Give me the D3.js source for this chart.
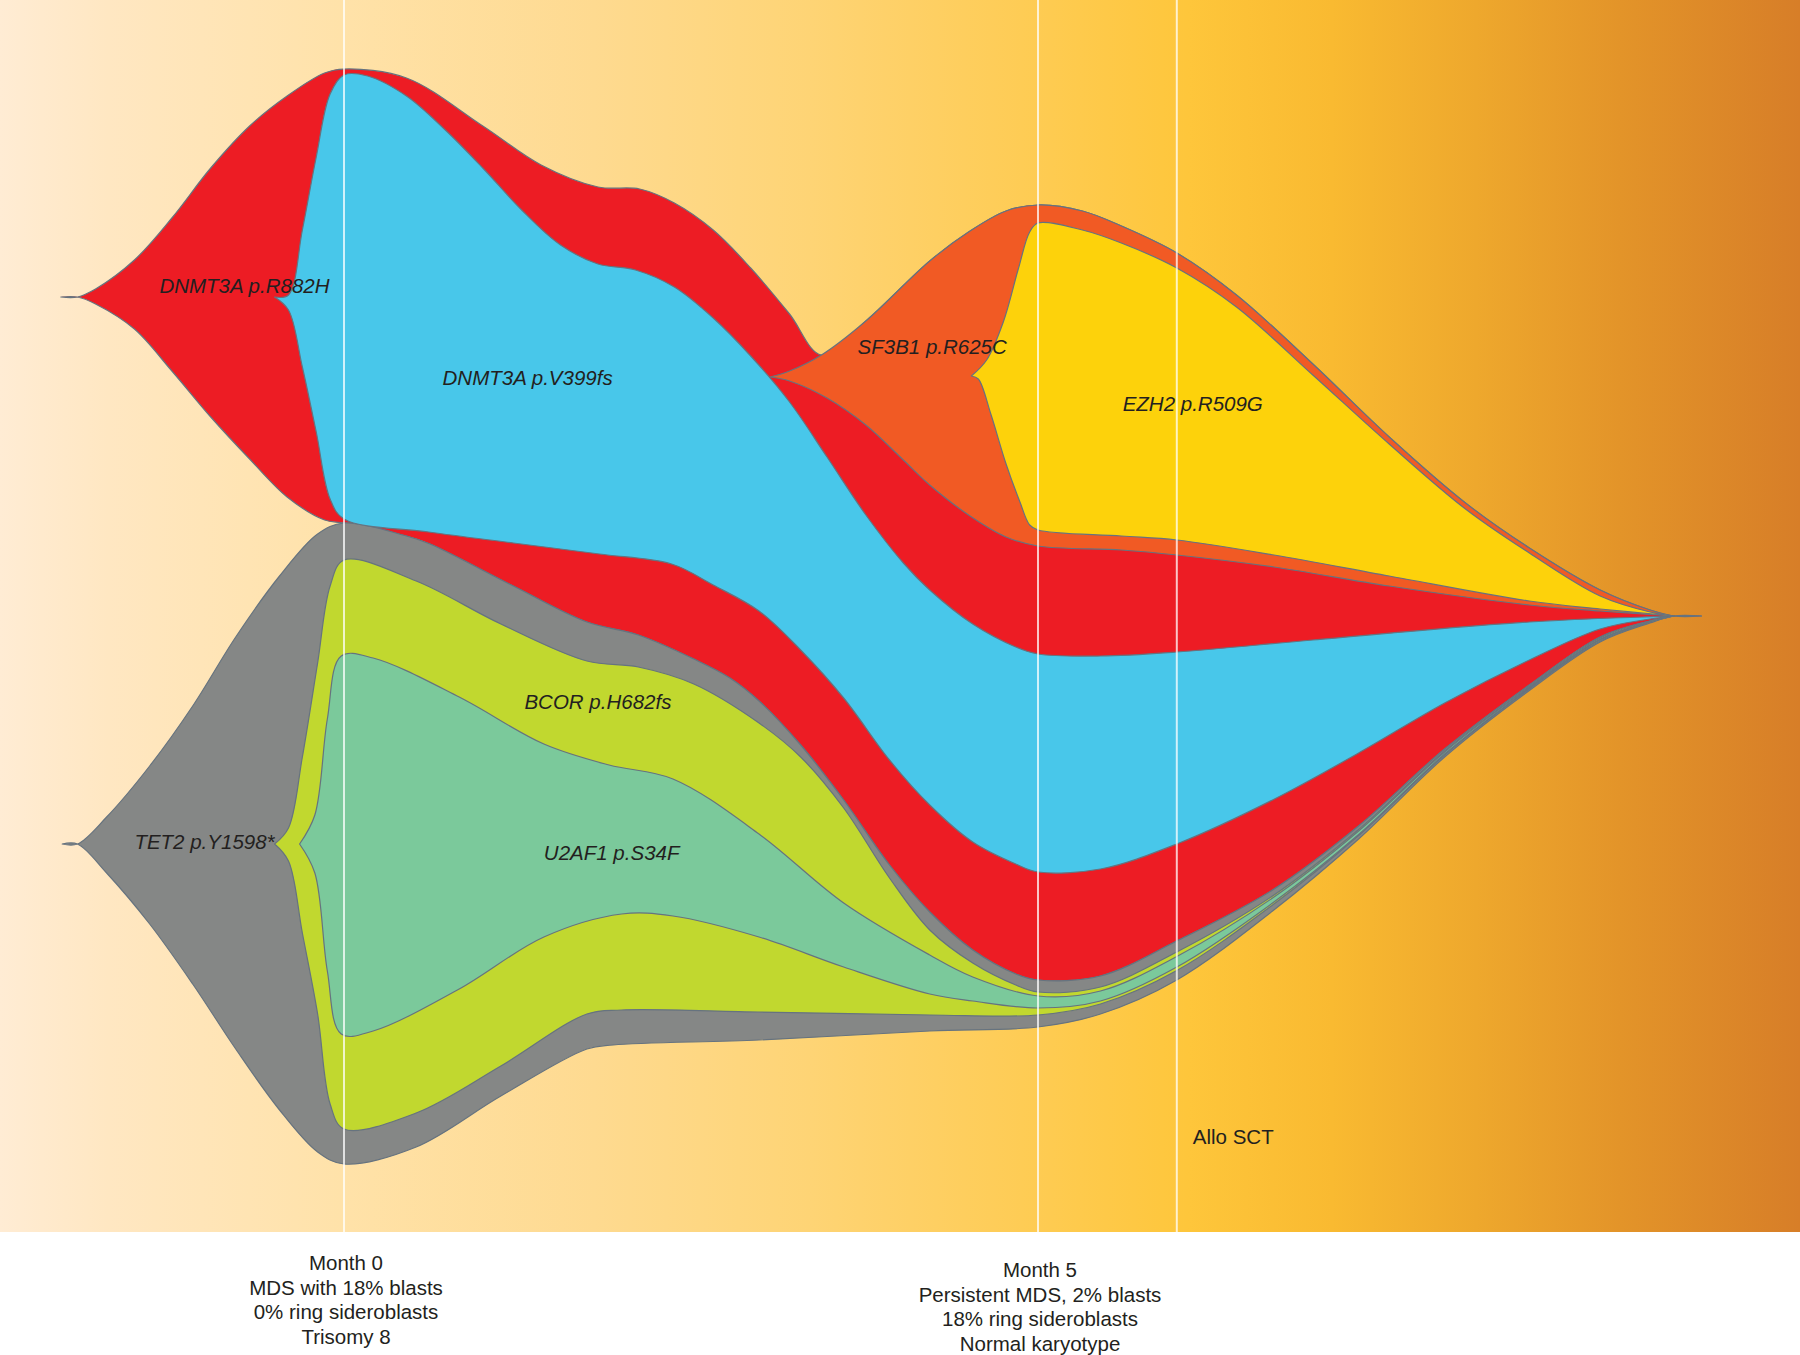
<!DOCTYPE html>
<html>
<head>
<meta charset="utf-8">
<script src="https://cdn.jsdelivr.net/npm/d3@7"></script>
<style>
  html, body { margin: 0; padding: 0; background: #ffffff; }
  svg { display: block; }
</style>
</head>
<body>
<svg id="chart" width="1800" height="1355"></svg>
<script>
// ---------------- DATA ----------------
// x: months since diagnosis; v: vertical position (0 = convergence line, + up)

// DNMT3A p.R882H (founding clone, outer envelope)
const r882hTop = [[-2.04,31.9],[-1.92,31.9],[-1.79,32.7],[-1.51,35.6],[-1.24,39.8],[-0.96,44.8],[-0.68,49.0],[-0.41,52.0],[-0.14,54.3],[0,54.7],[0.45,53.8],[1.00,49.0],[1.42,45.1],[1.83,42.9],[2.13,42.7],[2.38,41.3],[2.66,38.6],[2.93,34.8],[3.21,30.2],[3.44,26.1],[3.76,29.5],[4.22,35.5],[4.50,38.4],[4.77,40.5],[5.00,41.1],[5.32,40.5],[5.60,39.0],[6.00,36.3],[6.43,32.1],[6.98,25.2],[7.53,17.9],[8.08,11.3],[8.54,6.8],[9.05,2.6],[9.41,0.6],[9.58,0],[9.78,0]];
const r882hBottom = [[-2.04,31.9],[-1.92,31.9],[-1.79,31.2],[-1.51,28.7],[-1.24,24.5],[-0.96,19.9],[-0.68,15.7],[-0.41,11.9],[-0.14,9.6],[0,9.3],[0.45,8.0],[0.62,7.2],[1.22,3.0],[1.75,-0.6],[2.12,-1.9],[2.52,-4.3],[2.78,-6.2],[2.99,-8.5],[3.29,-12.9],[3.60,-18.4],[3.93,-24.9],[4.22,-29.6],[4.53,-33.4],[4.84,-35.8],[5.00,-36.4],[5.45,-36.0],[6.00,-32.5],[6.69,-27.4],[7.31,-21.0],[7.93,-13.3],[8.54,-6.9],[9.05,-2.1],[9.41,-0.5],[9.58,0],[9.78,0]];

// TET2 p.Y1598* (founding clone, lower fish)
const tet2Top = [[-2.03,-22.8],[-1.92,-22.8],[-1.71,-20.1],[-1.40,-15.0],[-1.09,-9.0],[-0.78,-2.1],[-0.47,3.9],[-0.19,8.2],[0,9.3],[0.45,8.0],[0.62,7.2],[1.22,3.0],[1.75,-0.6],[2.12,-1.9],[2.52,-4.3],[2.78,-6.2],[2.99,-8.5],[3.29,-12.9],[3.60,-18.4],[3.93,-24.9],[4.22,-29.6],[4.53,-33.4],[4.84,-35.8],[5.00,-36.4],[5.45,-36.0],[6.00,-32.5],[6.69,-27.4],[7.31,-21.0],[7.93,-13.3],[8.54,-6.9],[9.05,-2.1],[9.41,-0.5],[9.58,0],[9.78,0]];
const tet2Bottom = [[-2.03,-22.8],[-1.92,-22.8],[-1.71,-25.7],[-1.40,-30.8],[-1.09,-36.8],[-0.78,-43.3],[-0.47,-49.3],[-0.19,-53.6],[0,-54.8],[0.52,-53.1],[1.13,-48.0],[1.75,-43.3],[1.94,-42.9],[2.99,-42.4],[4.22,-41.5],[5.00,-41.1],[5.45,-39.8],[6.00,-36.4],[6.69,-29.5],[7.31,-22.3],[7.93,-14.1],[8.54,-7.45],[9.05,-2.6],[9.41,-0.7],[9.58,0],[9.78,0]];

// DNMT3A p.V399fs (child of R882H)
const v399Top = [[-0.50,31.9],[-0.40,32.1],[-0.30,38.6],[-0.20,45.9],[-0.10,52.2],[0,54.1],[0.17,54.0],[0.45,52.0],[0.73,48.6],[1.00,44.8],[1.28,40.6],[1.56,37.1],[1.83,35.2],[2.10,34.6],[2.38,32.9],[2.66,29.8],[2.93,26.0],[3.21,21.4],[3.48,15.9],[3.76,10.1],[4.03,5.3],[4.22,2.6],[4.53,-0.8],[4.84,-3.1],[5.00,-3.8],[5.45,-4.0],[6.00,-3.6],[6.98,-2.4],[8.54,-0.6],[9.58,0]];
const v399Bottom = [[-0.50,31.9],[-0.40,30.6],[-0.30,24.9],[-0.20,18.4],[-0.10,11.7],[0,9.7],[0.61,8.4],[1.22,7.3],[1.84,6.2],[2.36,5.2],[2.66,3.1],[2.99,0.5],[3.29,-3.4],[3.60,-8.2],[3.93,-14.4],[4.22,-18.9],[4.53,-22.6],[4.84,-24.8],[5.00,-25.6],[5.45,-25.3],[6.00,-22.8],[6.69,-18.4],[7.31,-13.7],[7.93,-8.7],[8.54,-4.4],[9.05,-1.3],[9.41,-0.3],[9.58,0]];

// SF3B1 p.R625C (child of R882H)
const sf3b1Top = [[3.07,23.9],[3.21,24.5],[3.44,26.1],[3.76,29.5],[4.22,35.5],[4.50,38.4],[4.77,40.5],[5.00,41.1],[5.32,40.5],[5.60,39.0],[6.00,36.3],[6.43,32.1],[6.98,25.2],[7.53,17.9],[8.08,11.3],[8.54,6.8],[9.05,2.6],[9.41,0.6],[9.58,0]];
const sf3b1Bottom = [[3.07,23.9],[3.21,23.5],[3.48,21.8],[3.76,19.1],[4.03,15.6],[4.22,13.1],[4.50,10.1],[4.77,7.9],[5.00,7.0],[5.60,6.6],[6.00,6.1],[6.70,4.9],[7.53,3.0],[8.54,1.1],[9.05,0.5],[9.58,0]];

// EZH2 p.R509G (child of SF3B1)
const ezh2Top = [[4.52,24.0],[4.63,25.6],[4.75,29.4],[4.86,34.8],[4.94,38.4],[5.00,39.3],[5.32,38.6],[5.60,37.3],[6.00,34.8],[6.43,30.9],[6.98,24.1],[7.53,17.2],[8.08,10.7],[8.54,6.3],[9.05,2.0],[9.41,0.4],[9.58,0]];
const ezh2Bottom = [[4.52,24.0],[4.57,23.7],[4.66,20.2],[4.77,15.2],[4.87,11.4],[4.94,9.1],[5.00,8.6],[5.60,8.0],[6.00,7.6],[6.70,6.1],[7.53,4.0],[8.54,1.5],[9.05,0.7],[9.58,0]];

// BCOR p.H682fs (child of TET2)
const bcorTop = [[-0.50,-22.8],[-0.40,-21.2],[-0.30,-14.1],[-0.19,-4.7],[-0.10,3.0],[0,5.6],[0.52,3.5],[1.13,-0.8],[1.75,-4.5],[2.12,-5.1],[2.52,-6.8],[2.99,-10.7],[3.29,-14.1],[3.60,-19.2],[3.93,-26.2],[4.22,-31.4],[4.53,-34.7],[4.84,-36.9],[5.00,-37.6],[5.45,-37.1],[6.00,-33.6],[6.69,-28.0],[7.31,-21.35],[7.93,-13.5],[8.54,-7.05],[9.05,-2.2],[9.41,-0.53],[9.58,0]];
const bcorBottom = [[-0.50,-22.8],[-0.40,-24.5],[-0.30,-31.7],[-0.19,-39.8],[-0.10,-48.8],[0,-51.3],[0.52,-49.7],[1.13,-45.0],[1.75,-39.8],[2.00,-39.4],[2.99,-39.6],[4.22,-39.9],[5.00,-39.9],[5.45,-38.8],[6.00,-35.45],[6.69,-28.9],[7.31,-21.95],[7.93,-13.9],[8.54,-7.3],[9.05,-2.5],[9.41,-0.63],[9.58,0]];

// U2AF1 p.S34F (child of BCOR)
const u2af1Top = [[-0.32,-22.8],[-0.21,-19.9],[-0.12,-10.3],[-0.02,-4.0],[0.21,-4.2],[0.83,-8.1],[1.44,-12.8],[1.91,-14.9],[2.37,-16.3],[2.99,-21.8],[3.60,-28.7],[4.22,-33.9],[4.53,-36.1],[5.00,-38.0],[5.45,-37.5],[6.00,-34.05],[6.69,-28.2],[7.31,-21.5],[7.93,-13.6],[8.54,-7.12],[9.05,-2.3],[9.41,-0.56],[9.58,0]];
const u2af1Bottom = [[-0.32,-22.8],[-0.21,-25.7],[-0.12,-35.5],[-0.02,-41.8],[0.21,-41.5],[0.83,-37.3],[1.44,-32.1],[2.00,-29.8],[2.37,-30.0],[2.99,-32.1],[3.60,-35.1],[4.22,-37.8],[4.53,-38.5],[5.00,-39.2],[5.45,-38.5],[6.00,-35.1],[6.69,-28.7],[7.31,-21.85],[7.93,-13.8],[8.54,-7.25],[9.05,-2.4],[9.41,-0.6],[9.58,0]];

// clones in drawing order (parents before children)
const cloneNames  = ["DNMT3A p.R882H", "TET2 p.Y1598*", "DNMT3A p.V399fs", "SF3B1 p.R625C", "EZH2 p.R509G", "BCOR p.H682fs", "U2AF1 p.S34F"];
const cloneColors = ["#ED1C24", "#858786", "#48C7EA", "#F15A24", "#FDD20B", "#C1D82F", "#7BC99B"];
const cloneTops    = [r882hTop, tet2Top, v399Top, sf3b1Top, ezh2Top, bcorTop, u2af1Top];
const cloneBottoms = [r882hBottom, tet2Bottom, v399Bottom, sf3b1Bottom, ezh2Bottom, bcorBottom, u2af1Bottom];

// clone label anchors (month, v) - text starts here
const labelMonths = [-1.33, -1.51, 0.71, 3.70, 5.61, 1.30, 1.44];
const labelV      = [32.3, -23.3, 23.1, 26.2, 20.5, -9.3, -24.4];

// timeline events
const eventMonths = [0, 5, 6];
const timepointMonths = [0, 5];
const timepointText = [
  ["Month 0", "MDS with 18% blasts", "0% ring sideroblasts", "Trisomy 8"],
  ["Month 5", "Persistent MDS, 2% blasts", "18% ring sideroblasts", "Normal karyotype"]
];
const therapyMonth = 6;
const therapyLabel = "Allo SCT";

// background gradient
const bgOffsets = [0, 0.06, 0.19, 0.33, 0.45, 0.52, 0.60, 0.66, 0.74, 0.82, 0.90, 1];
const bgColors  = ["#FFECD4", "#FFE7C2", "#FFE2A9", "#FEDA90", "#FED475", "#FECF62", "#FECA4C", "#FEC63B", "#F9BA31", "#EEA82D", "#E39429", "#D77E28"];

// ---------------- LAYOUT ----------------
const W = 1800, H = 1355, PANEL_H = 1232;
const x = d3.scaleLinear().domain([0, 5]).range([344, 1038]);
const y = d3.scaleLinear().domain([61.6, -61.6]).range([0, PANEL_H]);
const FONT = "'Liberation Sans', Arial, Helvetica, sans-serif";

const svg = d3.select("#chart");
const defs = svg.append("defs");
const grad = defs.append("linearGradient").attr("id", "bg").attr("x1", "0").attr("x2", "1").attr("y1", "0").attr("y2", "0");
bgOffsets.forEach((o, i) => grad.append("stop").attr("offset", o).attr("stop-color", bgColors[i]));

svg.append("rect").attr("x", 0).attr("y", 0).attr("width", W).attr("height", PANEL_H).attr("fill", "url(#bg)");

const line = d3.line().x(d => x(d[0])).y(d => y(d[1])).curve(d3.curveCatmullRom.alpha(0.5));
function shapePath(top, bottom) {
  const t = line(top);
  const b = line(bottom.slice().reverse());
  return t + "L" + b.slice(1) + "Z";
}

const g = svg.append("g");
cloneNames.forEach((name, i) => {
  g.append("path")
    .attr("d", shapePath(cloneTops[i], cloneBottoms[i]))
    .attr("fill", cloneColors[i])
    .attr("stroke", "#66737f")
    .attr("stroke-width", 1.2)
    .attr("stroke-linejoin", "round");
});

// event lines
svg.append("g").selectAll("line").data(eventMonths).join("line")
  .attr("x1", d => x(d)).attr("x2", d => x(d))
  .attr("y1", 0).attr("y2", PANEL_H)
  .attr("stroke", "#ffffff").attr("stroke-opacity", 0.75).attr("stroke-width", 2);

// clone labels
svg.append("g").selectAll("text").data(cloneNames).join("text")
  .attr("x", (d, i) => x(labelMonths[i]))
  .attr("y", (d, i) => y(labelV[i]))
  .attr("font-family", FONT).attr("font-style", "italic").attr("font-size", 20.5)
  .attr("fill", "#231F20")
  .text(d => d);

// therapy label
svg.append("text")
  .attr("x", x(therapyMonth) + 16).attr("y", 1144)
  .attr("font-family", FONT).attr("font-size", 20.5).attr("fill", "#231F20")
  .text(therapyLabel);

// time point labels
const tpBase = [1270, 1277];
timepointMonths.forEach((m, i) => {
  const t = svg.append("text")
    .attr("font-family", FONT).attr("font-size", 20.5).attr("fill", "#231F20")
    .attr("text-anchor", "middle");
  timepointText[i].forEach((s, j) => {
    t.append("tspan").attr("x", x(m) + 2).attr("y", tpBase[i] + j * 24.6).text(s);
  });
});
</script>
</body>
</html>
